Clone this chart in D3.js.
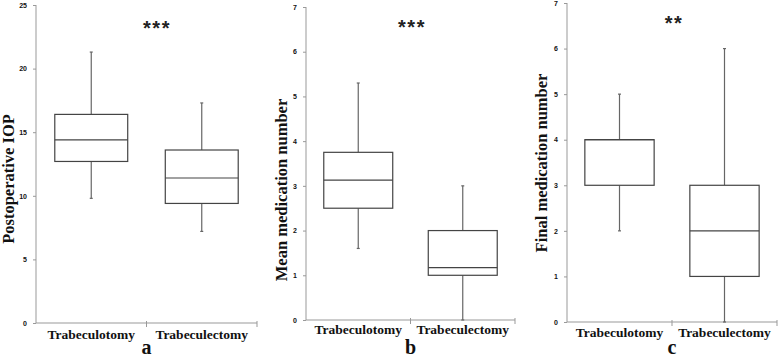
<!DOCTYPE html>
<html>
<head>
<meta charset="utf-8">
<script src="https://cdn.jsdelivr.net/npm/d3@7"></script>
<style>
    body { margin: 0; background: #fff; }
    svg { display: block; }
</style>
</head>
<body>
<div class="charts-div"></div>
<script>
// groups shared by all three panels
const groups = ["Trabeculotomy", "Trabeculectomy"];

// box stats per group: [min, q1, median, q3, max]
const iopStats = [
    [9.8, 12.7, 14.4, 16.4, 21.3],
    [7.2, 9.4, 11.4, 13.6, 17.3]
];
const meanMedStats = [
    [1.6, 2.5, 3.13, 3.75, 5.3],
    [0, 1.0, 1.17, 2.0, 3.0]
];
const finalMedStats = [
    [2, 3, 4, 4, 5],
    [0, 1, 2, 3, 6]
];

const iopTicks = [0, 5, 10, 15, 20, 25];
const medTicks = [0, 1, 2, 3, 4, 5, 6, 7];

const SERIF = "'Liberation Serif', 'Times New Roman', serif";
const SANS = "'Liberation Sans', Arial, sans-serif";

const panels = [
    { stats: iopStats, ticks: iopTicks, yMax: 25, label: "Postoperative IOP", letter: "a", stars: "***",
      x0: 36, x1: 257, yTop: 5, yBottom: 323, labelX: 14, labelY: 179, starX: 157, starY: 35, catY: 339 },
    { stats: meanMedStats, ticks: medTicks, yMax: 7, label: "Mean medication number", letter: "b", stars: "***",
      x0: 306, x1: 515, yTop: 7, yBottom: 320, labelX: 287, labelY: 190, starX: 412, starY: 34, catY: 334 },
    { stats: finalMedStats, ticks: medTicks, yMax: 7, label: "Final medication number", letter: "c", stars: "**",
      x0: 567, x1: 777, yTop: 3, yBottom: 322, labelX: 547, labelY: 163, starX: 674, starY: 30, catY: 337 }
];

const svg = d3.select(".charts-div").append("svg")
    .attr("width", 778)
    .attr("height", 358);

const drawPanel = (p) => {
    const g = svg.append("g");
    const y = d3.scaleLinear().domain([0, p.yMax]).range([p.yBottom, p.yTop]);
    const x = d3.scaleBand().domain(groups).range([p.x0, p.x1]).padding(0);
    const boxW = x.bandwidth() * 0.66;

    // y axis
    const yAxis = g.append("g")
        .attr("transform", `translate(${p.x0},0)`)
        .call(d3.axisLeft(y).tickValues(p.ticks).tickFormat(d3.format("d")).tickSize(3).tickPadding(6));
    yAxis.select(".domain").attr("stroke", "#999").attr("d", `M0,${p.yTop}V${p.yBottom}`);
    yAxis.selectAll(".tick line").attr("stroke", "#999");
    yAxis.selectAll(".tick text")
        .attr("font-family", SANS)
        .attr("font-weight", "bold")
        .attr("font-size", 7)
        .attr("fill", "#111");

    // x axis with ticks at the band edges
    const xAxis = g.append("g").attr("transform", `translate(0,${p.yBottom})`);
    xAxis.append("line")
        .attr("x1", p.x0).attr("x2", p.x1)
        .attr("stroke", "#999");
    xAxis.selectAll(".edge")
        .data(groups)
        .join("line")
        .attr("class", "edge")
        .attr("x1", (d) => x(d) + x.bandwidth())
        .attr("x2", (d) => x(d) + x.bandwidth())
        .attr("y1", -2).attr("y2", 4)
        .attr("stroke", "#999");

    xAxis.selectAll(".cat")
        .data(groups)
        .join("text")
        .attr("class", "cat")
        .attr("x", (d) => x(d) + x.bandwidth() / 2)
        .attr("y", p.catY - p.yBottom)
        .attr("text-anchor", "middle")
        .attr("font-family", SERIF)
        .attr("font-weight", "bold")
        .attr("font-size", 13.5)
        .attr("fill", "#111")
        .text((d) => d);

    // boxes
    const boxes = g.selectAll(".box")
        .data(p.stats.map((s, i) => ({ group: groups[i], s })))
        .join("g")
        .attr("class", "box");

    const cx = (d) => x(d.group) + x.bandwidth() / 2;

    // whiskers
    boxes.append("line")
        .attr("x1", cx).attr("x2", cx)
        .attr("y1", (d) => y(d.s[4])).attr("y2", (d) => y(d.s[3]))
        .attr("stroke", "#666").attr("stroke-width", 1.2);
    boxes.append("line")
        .attr("x1", cx).attr("x2", cx)
        .attr("y1", (d) => y(d.s[1])).attr("y2", (d) => y(d.s[0]))
        .attr("stroke", "#666").attr("stroke-width", 1.2);
    // caps
    [0, 4].forEach((k) => {
        boxes.append("line")
            .attr("x1", (d) => cx(d) - 1.5).attr("x2", (d) => cx(d) + 1.5)
            .attr("y1", (d) => y(d.s[k])).attr("y2", (d) => y(d.s[k]))
            .attr("stroke", "#666").attr("stroke-width", 1.2);
    });

    boxes.append("rect")
        .attr("x", (d) => cx(d) - boxW / 2)
        .attr("width", boxW)
        .attr("y", (d) => y(d.s[3]))
        .attr("height", (d) => y(d.s[1]) - y(d.s[3]))
        .attr("fill", "#fff")
        .attr("stroke", "#444")
        .attr("stroke-width", 1.2);

    boxes.append("line")
        .attr("x1", (d) => cx(d) - boxW / 2).attr("x2", (d) => cx(d) + boxW / 2)
        .attr("y1", (d) => y(d.s[2])).attr("y2", (d) => y(d.s[2]))
        .attr("stroke", "#444").attr("stroke-width", 1.2);

    // y axis label
    g.append("text")
        .attr("transform", `translate(${p.labelX},${p.labelY}) rotate(-90)`)
        .attr("text-anchor", "middle")
        .attr("font-family", SERIF)
        .attr("font-weight", "bold")
        .attr("font-size", 16.5)
        .attr("fill", "#111")
        .text(p.label);

    // significance stars
    g.append("text")
        .attr("x", p.starX)
        .attr("y", p.starY)
        .attr("text-anchor", "middle")
        .attr("font-family", SANS)
        .attr("font-weight", "bold")
        .attr("font-size", 20)
        .attr("letter-spacing", 1.5)
        .attr("fill", "#222")
        .text(p.stars);

    // panel letter
    g.append("text")
        .attr("x", (p.x0 + p.x1) / 2)
        .attr("y", 354)
        .attr("text-anchor", "middle")
        .attr("font-family", SERIF)
        .attr("font-weight", "bold")
        .attr("font-size", 20)
        .attr("fill", "#111")
        .text(p.letter);
};

panels.forEach(drawPanel);
</script>
</body>
</html>
